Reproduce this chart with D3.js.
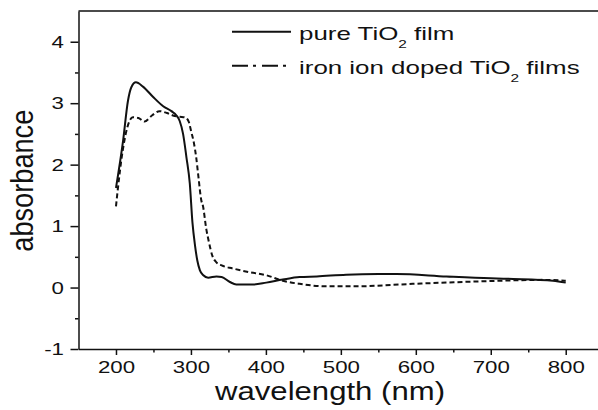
<!DOCTYPE html>
<html><head><meta charset="utf-8">
<script src="https://cdn.jsdelivr.net/npm/d3@7/dist/d3.min.js"></script>
<style>
html,body{margin:0;padding:0;background:#fff;}
svg{display:block;font-family:"Liberation Sans",Arial,Helvetica,sans-serif;}
</style>
</head><body>
<svg id="chart" width="598" height="410"></svg>
<script>
// ---- data ----
const wavelengthPure = [200, 209.5, 216, 220.5, 226.6, 236, 249.6, 263, 274, 280.7, 285, 289.5, 294, 298.5, 302, 305.5, 308.5, 312, 316.5, 323, 334, 341, 352, 360.5, 383, 400.5, 422.6, 445, 468, 507, 550, 574, 641, 700, 730, 783, 800];
const absPure        = [1.62, 2.39, 3.04, 3.26, 3.34, 3.27, 3.10, 2.95, 2.87, 2.80, 2.71, 2.50, 2.12, 1.69, 1.06, 0.68, 0.44, 0.28, 0.20, 0.16, 0.18, 0.17, 0.09, 0.05, 0.05, 0.08, 0.13, 0.17, 0.18, 0.21, 0.22, 0.22, 0.18, 0.15, 0.14, 0.11, 0.08];

const wavelengthDoped = [200, 202, 209, 215, 222.5, 230, 238, 248, 258, 268, 276, 285, 292, 297, 300.5, 304, 307, 310, 313.8, 316, 320.5, 324, 328.5, 334, 341, 356, 378, 400.5, 422.6, 445, 480, 520, 596, 685, 770, 800];
const absDoped        = [1.32, 1.55, 2.23, 2.60, 2.77, 2.76, 2.70, 2.80, 2.87, 2.84, 2.80, 2.78, 2.77, 2.70, 2.53, 2.35, 2.12, 1.80, 1.42, 1.33, 0.95, 0.74, 0.52, 0.41, 0.36, 0.31, 0.25, 0.20, 0.11, 0.06, 0.02, 0.02, 0.06, 0.10, 0.125, 0.11];

const xTicks = [200, 300, 400, 500, 600, 700, 800];
const xMinorTicks = [250, 350, 450, 550, 650, 750, 850];
const yTicks = [-1, 0, 1, 2, 3, 4];
const yMinorTicks = [-0.5, 0.5, 1.5, 2.5, 3.5];
const xDomain = [150, 850];
const yDomain = [-1, 4.5];
const xTitle = "wavelength (nm)";
const yTitle = "absorbance";
const legendLabels = [["pure TiO", "2", " film"], ["iron ion doped TiO", "2", " films"]];

// ---- layout ----
const svg = d3.select("#chart");
const plotLeft = 78.5, plotRight = 603.2, plotTop = 11, plotBottom = 349;
const x = d3.scaleLinear().domain(xDomain).range([plotLeft, plotRight]);
const y = d3.scaleLinear().domain(yDomain).range([plotBottom, plotTop]);
const ink = "#111";
const labelScale = 1.35;

// frame (top + right)
svg.append("path")
  .attr("d", `M${plotLeft},${plotTop}H${plotRight}V${plotBottom}`)
  .attr("fill", "none").attr("stroke", ink).attr("stroke-width", 1.5);

// x axis
const gx = svg.append("g").attr("transform", `translate(0,${plotBottom})`)
  .call(d3.axisBottom(x).tickValues(xTicks).tickSize(6).tickSizeOuter(0).tickFormat(d => String(d)));
svg.append("g").attr("transform", `translate(0,${plotBottom})`)
  .call(d3.axisBottom(x).tickValues(xMinorTicks).tickSize(3.5).tickSizeOuter(0).tickFormat(""))
  .call(g => g.select(".domain").remove());

// y axis
const gy = svg.append("g").attr("transform", `translate(${plotLeft},0)`)
  .call(d3.axisLeft(y).tickValues(yTicks).tickSize(8).tickSizeOuter(0).tickFormat(d => String(d)));
svg.append("g").attr("transform", `translate(${plotLeft},0)`)
  .call(d3.axisLeft(y).tickValues(yMinorTicks).tickSize(3.5).tickSizeOuter(0).tickFormat(""))
  .call(g => g.select(".domain").remove());

svg.selectAll(".domain, .tick line").attr("stroke", ink).attr("stroke-width", 1.5);

gx.selectAll(".tick text")
  .attr("y", 24).attr("dy", null)
  .attr("font-size", 16.5).attr("fill", ink)
  .attr("font-family", '"Liberation Sans",Arial,sans-serif')
  .attr("transform", `scale(${labelScale},1)`);
gy.selectAll(".tick text")
  .attr("x", -14.5 / labelScale).attr("dy", "0.35em")
  .attr("font-size", 16.5).attr("fill", ink)
  .attr("font-family", '"Liberation Sans",Arial,sans-serif')
  .attr("transform", `scale(${labelScale},1)`);

// axis titles
svg.append("text")
  .attr("x", 215).attr("y", 400)
  .attr("font-size", 25).attr("fill", ink)
  .attr("textLength", 230).attr("lengthAdjust", "spacingAndGlyphs")
  .text(xTitle);
svg.append("text")
  .attr("transform", "translate(33,251.7) rotate(-90)")
  .attr("font-size", 31).attr("fill", ink)
  .attr("textLength", 142).attr("lengthAdjust", "spacingAndGlyphs")
  .text(yTitle);

// curves
const line = d3.line().x(d => x(d[0])).y(d => y(d[1])).curve(d3.curveMonotoneX);
const pure = wavelengthPure.map((w, i) => [w, absPure[i]]);
const doped = wavelengthDoped.map((w, i) => [w, absDoped[i]]);

svg.append("path").datum(doped)
  .attr("d", line).attr("fill", "none").attr("stroke", ink)
  .attr("stroke-width", 2).attr("stroke-dasharray", "5,3");
svg.append("path").datum(pure)
  .attr("d", line).attr("fill", "none").attr("stroke", ink)
  .attr("stroke-width", 2);

// legend
const legendY = [31.7, 65.7];
const dashes = [null, "16,5,3,6"];
legendLabels.forEach((parts, i) => {
  svg.append("line")
    .attr("x1", 232).attr("x2", 291)
    .attr("y1", legendY[i]).attr("y2", legendY[i])
    .attr("stroke", ink).attr("stroke-width", 2)
    .attr("stroke-dasharray", dashes[i]);
  const t = svg.append("text")
    .attr("transform", `translate(299,${legendY[i] + 8.3}) scale(1.4,1)`)
    .attr("font-size", 18.5).attr("fill", ink);
  t.append("tspan").text(parts[0]);
  t.append("tspan").attr("font-size", 11).attr("dy", 8).text(parts[1]);
  t.append("tspan").attr("dy", -8).text(parts[2]);
});
</script>
</body></html>
